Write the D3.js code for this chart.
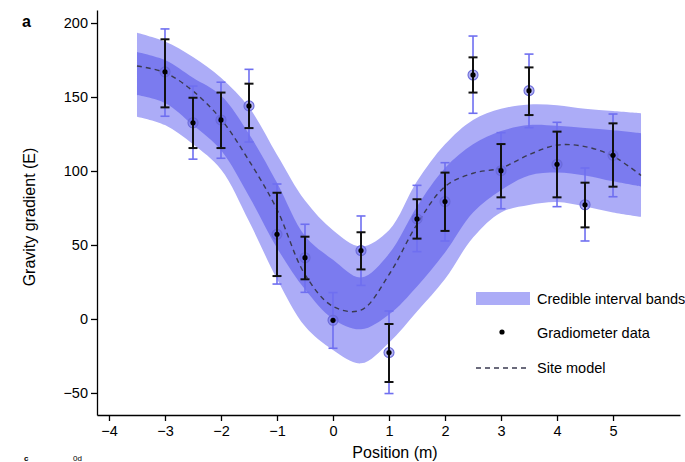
<!DOCTYPE html>
<html><head><meta charset="utf-8">
<script src="https://cdn.jsdelivr.net/npm/d3@7"></script>
<style>
html,body{margin:0;padding:0;background:#fff;}
svg{display:block;font-family:"Liberation Sans",Arial,Helvetica,sans-serif;}
</style></head><body>
<svg id="chart" width="685" height="462"></svg>
<script>
// Model / credible interval bands (sampled along position)
const bandX    = [-3.5,-3,-2.5,-2,-1.5,-1,-0.5,0,0.5,1,1.5,2,2.5,3,3.5,4,4.5,5,5.5];
const siteModel= [171,166.5,154,135,107,74,30,8.5,6,30,64,89.5,98.5,102,111,117.5,116.5,110,97];
const outerHi  = [193.5,187.5,177,163,143,111,80,60,49,60,93,118,134.5,142,145,144.5,142,140.5,139];
const innerHi  = [180.5,175,163,151,125,92,56,40,28,44,76,102,118,127,131,130.5,129,127.5,125.5];
const innerLo  = [151.4,146,131,114,83,48,20,0,-7,3,22,45,72,87,97,99,97,93,89.5];
const outerLo  = [136.7,131,118,101,66,27,-5,-21,-30,-16,5,27,55,72,77,79,76,72,69];

// Gradiometer data
const pos      = [-3,-2.5,-2,-1.5,-1,-0.5,0,0.5,1,1.5,2,2.5,3,3.5,4,4.5,5];
const grad     = [167,132.6,134.5,144,57.2,41.4,-0.9,46.2,-22.7,67.6,79.3,164.9,100.2,154.3,104.5,77.2,110.6];
const blackLo  = [143,115.5,115.5,129,29,26.8,null,33.5,-42.6,54.3,59.5,153,82.2,137.8,82.2,61.9,89.4];
const blackHi  = [189,149.5,153,159,85.3,55.6,null,58.6,-3.4,80.9,98.9,176.8,118.2,170,126.6,92.1,132.2];
const blueLo   = [137,108,108.6,119.6,23.6,18,-19.8,22.7,-50.4,45.5,52.7,139,74.5,129.3,75.9,52.7,82.6];
const blueHi   = [196,157.4,160,168.7,91.2,64,17.8,69.6,5.4,90.3,105.6,191.2,125.9,179,132.9,102,138.5];

const xTicks = [-4,-3,-2,-1,0,1,2,3,4,5];
const yTicks = [-50,0,50,100,150,200];

const svg = d3.select("#chart");
const x = d3.scaleLinear().domain([-4.214,6.196]).range([97,680]);
const y = d3.scaleLinear().domain([-64.9,208.8]).range([415,10]);

const fmt = v => (v<0 ? "\u2212"+Math.abs(v) : ""+v);

const bands = bandX.map((b,i)=>({x:b,m:siteModel[i],oh:outerHi[i],ih:innerHi[i],il:innerLo[i],ol:outerLo[i]}));
const curve = d3.curveCatmullRom.alpha(0.5);

svg.append("path").datum(bands)
  .attr("d", d3.area().x(d=>x(d.x)).y0(d=>y(d.ol)).y1(d=>y(d.oh)).curve(curve))
  .attr("fill","#acacf7");
svg.append("path").datum(bands)
  .attr("d", d3.area().x(d=>x(d.x)).y0(d=>y(d.il)).y1(d=>y(d.ih)).curve(curve))
  .attr("fill","#7b7bef");
svg.append("path").datum(bands)
  .attr("d", d3.line().x(d=>x(d.x)).y(d=>y(d.m)).curve(curve))
  .attr("fill","none").attr("stroke","#3a3a50").attr("stroke-width",1.4)
  .attr("stroke-dasharray","5,4");

// data
const pts = pos.map((p,i)=>({x:p,v:grad[i],bl:blackLo[i],bh:blackHi[i],ul:blueLo[i],uh:blueHi[i]}));
const g = svg.append("g");
const capW = 4.5;
pts.forEach(d=>{
  const cx = x(d.x);
  g.append("line").attr("x1",cx).attr("x2",cx).attr("y1",y(d.ul)).attr("y2",y(d.uh))
    .attr("stroke","#6f6ff0").attr("stroke-width",1.6);
  [d.ul,d.uh].forEach(v=>g.append("line").attr("x1",cx-capW).attr("x2",cx+capW)
    .attr("y1",y(v)).attr("y2",y(v)).attr("stroke","#6f6ff0").attr("stroke-width",1.6));
  g.append("circle").attr("cx",cx).attr("cy",y(d.v)).attr("r",5)
    .attr("fill","rgba(105,105,235,0.5)").attr("stroke","#6a6ad8").attr("stroke-width",1.1);
  if (d.bl!==null){
    g.append("line").attr("x1",cx).attr("x2",cx).attr("y1",y(d.bl)).attr("y2",y(d.bh))
      .attr("stroke","#111").attr("stroke-width",2);
    [d.bl,d.bh].forEach(v=>g.append("line").attr("x1",cx-capW).attr("x2",cx+capW)
      .attr("y1",y(v)).attr("y2",y(v)).attr("stroke","#111").attr("stroke-width",2));
  }
  g.append("circle").attr("cx",cx).attr("cy",y(d.v)).attr("r",2.6).attr("fill","#000");
});

// axes
const xAxis = svg.append("g").attr("transform","translate(0,415)")
  .call(d3.axisBottom(x).tickValues(xTicks).tickFormat(fmt).tickSize(6).tickSizeOuter(0));
const yAxis = svg.append("g").attr("transform","translate(97,0)")
  .call(d3.axisLeft(y).tickValues(yTicks).tickFormat(fmt).tickSize(6).tickSizeOuter(0));
[xAxis,yAxis].forEach(a=>{
  a.select(".domain").attr("stroke","#000").attr("stroke-width",1.3);
  a.selectAll(".tick line").attr("stroke","#000").attr("stroke-width",1.3);
  a.selectAll(".tick text").attr("fill","#000").style("font-size","14.5px")
    .style("font-family",'"Liberation Sans",Arial,sans-serif');
});
xAxis.selectAll(".tick text").attr("dy","0.95em").attr("y",7);
yAxis.selectAll(".tick text").attr("x",-9);

svg.append("text").attr("x",395).attr("y",458).attr("text-anchor","middle")
  .style("font-size","16px").text("Position (m)");
svg.append("text").attr("transform","translate(35,217) rotate(-90)").attr("text-anchor","middle")
  .style("font-size","16px").text("Gravity gradient (E)");
svg.append("text").attr("x",22).attr("y",27).style("font-size","16px").style("font-weight","bold").text("a");
svg.append("text").attr("x",24).attr("y",461).style("font-size","8px").style("font-weight","bold").text("c");
svg.append("text").attr("x",73).attr("y",461).style("font-size","8px").text("0d");

// legend
const lg = svg.append("g");
lg.append("rect").attr("x",476).attr("y",292).attr("width",54).attr("height",13).attr("fill","#acacf7");
lg.append("text").attr("x",537).attr("y",304).style("font-size","14.5px").text("Credible interval bands");
lg.append("circle").attr("cx",502).attr("cy",332).attr("r",2.6).attr("fill","#000");
lg.append("text").attr("x",537).attr("y",338).style("font-size","14.5px").text("Gradiometer data");
lg.append("line").attr("x1",476).attr("x2",526).attr("y1",368).attr("y2",368)
  .attr("stroke","#3a3a50").attr("stroke-width",1.3).attr("stroke-dasharray","5,4");
lg.append("text").attr("x",537).attr("y",373).style("font-size","14.5px").text("Site model");
</script>
</body></html>
